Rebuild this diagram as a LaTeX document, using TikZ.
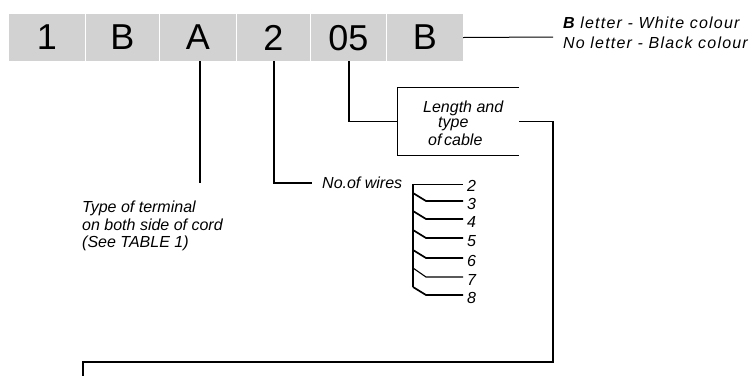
\documentclass[tikz,border=0pt]{standalone}
\usepackage{fontspec}
\setmainfont{Liberation Sans}
\newfontfamily\spacedfont[LetterSpace=7.5]{Liberation Sans}
\definecolor{cellgray}{RGB}{210,210,210}
\tikzset{
  cell/.style={fill=cellgray, minimum height=47pt, inner sep=0pt, font=\fontsize{36}{40}\selectfont, text depth=0pt},
  lbl/.style={inner sep=0pt, font=\fontsize{16}{18}\selectfont\itshape},
  sp/.style={inner sep=0pt, font=\fontsize{16}{18}\spacedfont\itshape},
  conn/.style={line width=1.7pt},
  thin/.style={line width=1pt},
}
\begin{document}
\begin{tikzpicture}[x=1pt,y=-1pt]
\useasboundingbox (0,0) rectangle (755,376);
% code cells
\node[cell, minimum width=76pt] (c1) at (47,37.5) {1};
\node[cell, minimum width=73pt] (c2) at (122.5,37.5) {B};
\node[cell, minimum width=76pt] (c3) at (198,37.5) {A};
\node[cell, minimum width=73pt] (c4) at (273.5,37.5) {2};
\node[cell, minimum width=75pt] (c5) at (348.5,37.5) {05};
\node[cell, minimum width=76pt] (c6) at (425,37.5) {B};
% colour note
\coordinate (bl) at (553,37);
\draw[thin] (c6.east) -- (bl);
\node[sp, anchor=base west] (n1) at (563,28) {\textbf{B} letter - White colour};
\node[sp, anchor=base west] (n2) at (563,48) {No letter - Black colour};
% length box
\node[minimum width=121pt, minimum height=67pt, inner sep=0pt] (box) at (458.5,121.5) {};
\draw[thin] (box.north east) -- (box.north west) -- (box.south west) -- (box.south east);
\node[lbl, anchor=base west] (t1) at (423,112) {Length and};
\node[lbl, anchor=base west] (t2) at (438,127.5) {type};
\node[lbl, anchor=base west] (t3) at (428,145) {of\,cable};
\coordinate (l1) at (349,121.5);
\draw[conn] (c5.south -| l1) -- (l1) -- (box.west);
\coordinate (r1) at (553,121.5);
\coordinate (r2) at (553,362);
\coordinate (r3) at (83,362);
\coordinate (r4) at (83,376);
\draw[conn] (box.east) -- (r1) -- (r2) -- (r3) -- (r4);
% terminal type
\coordinate (aend) at (200,183);
\draw[conn] (c3.south -| aend) -- (aend);
\node[lbl, anchor=base west] (ty1) at (82,212) {Type of terminal};
\node[lbl, anchor=base west] (ty2) at (82,230) {on both side of cord};
\node[lbl, anchor=base west] (ty3) at (82,247.5) {(See TABLE 1)};
% number of wires
\coordinate (w1) at (274,183);
\coordinate (w2) at (312,183);
\node[lbl, anchor=base west] (wires) at (322,188) {No.of wires};
\draw[conn] (c4.south -| w1) -- (w1) -- (w2);
% wire tree
\coordinate (tt) at (413,184);
\coordinate (tb) at (413,287);
\coordinate (h2) at (463,184);
\draw[conn] (tb) -- (tt);
\draw[thin] (tt) -- (h2);
\node[lbl, anchor=west] (k2) at (467,186) {2};
\foreach \n/\a/\b/\w in {3/193/201/1.7pt,4/211/219/1.7pt,5/230/238/1.7pt,6/250/258/1.7pt,7/268/277/1.1pt,8/287/295/1.7pt}{
  \coordinate (s\n) at (413,\a);
  \coordinate (m\n) at (426,\b);
  \coordinate (e\n) at (463,\b);
  \draw[line width=\w] (s\n) -- (m\n) -- (e\n);
  \node[lbl, anchor=west] (k\n) at (467,\b+3) {\n};
}
\end{tikzpicture}
\end{document}
